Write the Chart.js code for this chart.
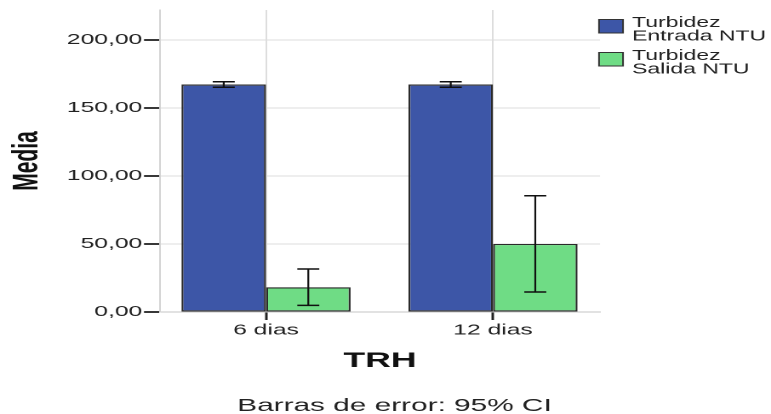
<!DOCTYPE html>
<html>
<head>
<meta charset="utf-8">
<script src="https://cdn.jsdelivr.net/npm/chart.js@4.4.1/dist/chart.umd.min.js"></script>
<style>
  html, body { margin: 0; padding: 0; background: #fff; overflow: hidden; }
  #wrap { position: absolute; left: 0; top: 0; width: 453px; height: 414px; transform-origin: 0 0; }
</style>
</head>
<body>
<div id="wrap"><canvas id="c"></canvas></div>
<script>
// Mean turbidity (NTU) per hydraulic retention time, with 95% CI bounds
const categories = ['6 dias', '12 dias'];
const seriesNames = [['Turbidez', 'Entrada NTU'], ['Turbidez', 'Salida NTU']];
const entrada = [167.2, 167.2];
const entradaLow = [165.2, 165.2];
const entradaHigh = [169.3, 169.3];
const salida = [18.2, 50.0];
const salidaLow = [4.9, 14.7];
const salidaHigh = [31.6, 85.5];
const yTicks = [0, 50, 100, 150, 200];
const yMax = 222;
const xTitle = 'TRH';
const yTitle = 'Media';
const footnote = 'Barras de error: 95% CI';

// The canvas is drawn narrow and widened horizontally, giving the wide lettering
const W = 453, H = 414;
const SX = 771 / W;
document.getElementById('wrap').style.transform = 'scaleX(' + SX + ')';
const v = px => px / SX;          // page x -> canvas x

const FONT = '"Liberation Sans", Arial, sans-serif';
const INK = '#222';

// plot frame on the page
const plotLeft = 160, plotRight = 600, plotTop = 10, plotBottom = 312;
const firstCenter = 266, secondCenter = 493;
const unit = secondCenter - firstCenter;
const xMin = -(firstCenter - plotLeft) / unit;
const xMax = (categories.length - 1) + (plotRight - secondCenter) / unit;

const toPoints = arr => arr.map((y, i) => ({ x: i, y }));

const errorBars = {
  id: 'errorBars',
  afterDatasetsDraw(chart) {
    const { ctx } = chart;
    const yScale = chart.scales.y;
    chart.data.datasets.forEach((ds, d) => {
      const meta = chart.getDatasetMeta(d);
      meta.data.forEach((bar, i) => {
        const yLo = yScale.getPixelForValue(ds.errLow[i]);
        const yHi = yScale.getPixelForValue(ds.errHigh[i]);
        const cap = v(11);
        ctx.save();
        ctx.strokeStyle = '#111';
        ctx.lineWidth = 1.1;
        ctx.beginPath();
        ctx.moveTo(bar.x, yLo);
        ctx.lineTo(bar.x, yHi);
        ctx.stroke();
        ctx.lineWidth = 1.5;
        ctx.beginPath();
        ctx.moveTo(bar.x - cap, yHi);
        ctx.lineTo(bar.x + cap, yHi);
        ctx.moveTo(bar.x - cap, yLo);
        ctx.lineTo(bar.x + cap, yLo);
        ctx.stroke();
        ctx.restore();
      });
    });
  }
};

const sideLegend = {
  id: 'sideLegend',
  afterDraw(chart) {
    const { ctx } = chart;
    const squeeze = 0.9;   // legend lettering is a little narrower than the rest
    ctx.save();
    chart.data.datasets.forEach((ds, d) => {
      const base = 27 + d * 33;
      ctx.fillStyle = ds.backgroundColor;
      ctx.fillRect(v(599), base - 7.5, v(24), 13.5);
      ctx.strokeStyle = '#333';
      ctx.lineWidth = 1;
      ctx.strokeRect(v(599), base - 7.5, v(24), 13.5);
      ctx.save();
      ctx.translate(v(632), 0);
      ctx.scale(squeeze, 1);
      ctx.font = '15px ' + FONT;
      ctx.textAlign = 'left';
      ctx.textBaseline = 'alphabetic';
      ctx.fillStyle = INK;
      ds.label.forEach((line, k) => ctx.fillText(line, 0, base + k * 13.5));
      ctx.restore();
    });
    ctx.restore();
  }
};

const footnoteText = {
  id: 'footnoteText',
  afterDraw(chart) {
    const { ctx } = chart;
    ctx.save();
    ctx.font = '17.5px ' + FONT;
    ctx.fillStyle = INK;
    ctx.textAlign = 'center';
    ctx.textBaseline = 'alphabetic';
    ctx.fillText(footnote, v(394.5), 411);
    ctx.restore();
  }
};

new Chart(document.getElementById('c'), {
  type: 'bar',
  data: {
    datasets: [
      {
        label: seriesNames[0],
        data: toPoints(entrada),
        errLow: entradaLow,
        errHigh: entradaHigh,
        backgroundColor: '#3d56a7',
        borderColor: '#2a2a2a',
        borderWidth: 1.2,
        borderSkipped: false
      },
      {
        label: seriesNames[1],
        data: toPoints(salida),
        errLow: salidaLow,
        errHigh: salidaHigh,
        backgroundColor: '#6fdc85',
        borderColor: '#2a2a2a',
        borderWidth: 1.2,
        borderSkipped: false
      }
    ]
  },
  options: {
    responsive: true,
    maintainAspectRatio: false,
    devicePixelRatio: 2,
    animation: false,
    layout: { padding: { top: plotTop, left: 0, right: W - v(plotRight), bottom: 0 } },
    datasets: { bar: { categoryPercentage: 0.745, barPercentage: 1 } },
    plugins: {
      legend: { display: false },
      tooltip: { enabled: false }
    },
    scales: {
      x: {
        type: 'linear',
        min: xMin,
        max: xMax,
        offset: false,
        afterBuildTicks: s => { s.ticks = categories.map((c, i) => ({ value: i })); },
        afterFit: s => { s.height = H - plotBottom; s.paddingLeft = 0; s.paddingRight = 0; },
        ticks: {
          callback: val => categories[val],
          font: { family: FONT, size: 14.5 },
          color: INK,
          padding: 2,
          maxRotation: 0,
          autoSkip: false
        },
        grid: { offset: false, color: '#dddddd', lineWidth: 1, tickColor: '#222', tickLength: 8, tickWidth: 1.5 },
        border: { color: '#c4c4c4', width: 1 },
        title: {
          display: true,
          text: xTitle,
          font: { family: FONT, size: 21, weight: 'bold' },
          color: '#111',
          padding: { top: 0, bottom: 40 }
        }
      },
      y: {
        min: 0,
        max: yMax,
        afterBuildTicks: s => { s.ticks = yTicks.map(t => ({ value: t })); },
        afterFit: s => { s.width = v(plotLeft); s.paddingTop = 0; s.paddingBottom = 0; },
        ticks: {
          callback: val => val.toFixed(2).replace('.', ','),
          font: { family: FONT, size: 14.5 },
          color: INK,
          padding: 1
        },
        grid: { color: '#dddddd', lineWidth: 1, tickColor: '#222', tickLength: v(16), tickWidth: 1.8 },
        border: { color: '#d4d4d4', width: 1 },
        title: {
          display: true,
          text: yTitle,
          font: { family: FONT, size: 21, weight: 'bold' },
          color: '#111',
          padding: { top: 3.6, bottom: 0 }
        }
      }
    }
  },
  plugins: [errorBars, sideLegend, footnoteText]
});
</script>
</body>
</html>
